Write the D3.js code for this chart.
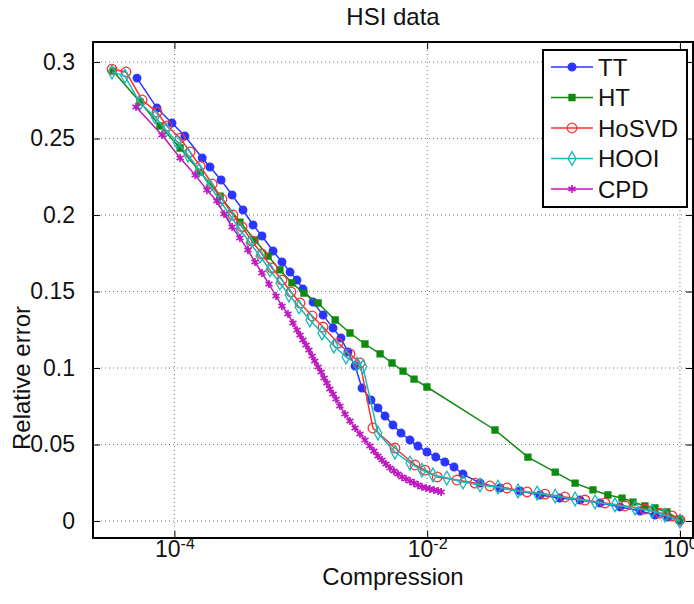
<!DOCTYPE html>
<html>
<head>
<meta charset="utf-8">
<script src="https://cdn.jsdelivr.net/npm/d3@7"></script>
<style>
body { margin:0; background:#fff; }
text { font-family: "Liberation Sans", Arial, Helvetica, sans-serif; }
</style>
</head>
<body>
<svg id="drawing_region"></svg>
<script>
// values (compression, relative error)
const seriesNames = ['TT', 'HT', 'HoSVD', 'HOOI', 'CPD'];

const ttX = [5.06e-5, 7.28e-5, 9.57e-5, 1.21e-4, 1.66e-4, 1.91e-4, 2.34e-4, 2.86e-4, 3.49e-4, 4.19e-4,
    4.93e-4, 6.03e-4, 7.10e-4, 8.22e-4, 9.33e-4, 1.04e-3, 1.25e-3, 1.50e-3, 1.80e-3, 2.08e-3,
    2.36e-3, 2.69e-3, 3.05e-3, 3.59e-3, 4.08e-3, 4.64e-3, 5.36e-3, 6.21e-3, 7.31e-3, 8.46e-3,
    9.96e-3, 1.17e-2, 1.38e-2, 1.63e-2, 1.92e-2, 2.62e-2, 3.77e-2, 5.42e-2, 7.80e-2, 0.112,
    0.162, 0.233, 0.335, 0.483, 0.634, 0.804, 1.0];
const ttY = [0.2895, 0.2699, 0.2601, 0.2516, 0.2373, 0.2314, 0.2229, 0.2131, 0.2033, 0.1935,
    0.1863, 0.1765, 0.1693, 0.1627, 0.1575, 0.1516, 0.1431, 0.1346, 0.1261, 0.1196,
    0.1105, 0.1013, 0.0869, 0.0791, 0.0739, 0.0686, 0.0627, 0.0575, 0.0529, 0.0490,
    0.0451, 0.0418, 0.0386, 0.0353, 0.0307, 0.0248, 0.0216, 0.0196, 0.0170, 0.0150,
    0.0137, 0.0118, 0.0092, 0.0065, 0.0039, 0.0026, 0.0];

const htX = [3.27e-5, 5.35e-5, 7.69e-5, 1.11e-4, 1.60e-4, 2.30e-4, 3.30e-4, 4.34e-4, 5.51e-4, 6.84e-4,
    8.51e-4, 1.06e-3, 1.37e-3, 1.87e-3, 2.45e-3, 3.22e-3, 4.24e-3, 5.27e-3, 6.44e-3, 7.87e-3,
    9.96e-3, 3.44e-2, 6.27e-2, 0.103, 0.148, 0.205, 0.269, 0.348, 0.425, 0.528,
    0.634, 0.789, 0.982];
const htY = [0.2941, 0.2739, 0.2582, 0.2438, 0.2281, 0.2124, 0.1954, 0.1837, 0.1732, 0.1641,
    0.1556, 0.1490, 0.1425, 0.1314, 0.1229, 0.1157, 0.1092, 0.1033, 0.0980, 0.0928,
    0.0876, 0.0595, 0.0418, 0.0320, 0.0248, 0.0203, 0.0170, 0.0150, 0.0124, 0.0098,
    0.0085, 0.0059, 0.0013];

const hosvdX = [3.21e-5, 4.14e-5, 5.55e-5, 7.28e-5, 8.73e-5, 1.11e-4, 1.33e-4, 1.60e-4, 1.99e-4, 2.38e-4,
    2.91e-4, 3.43e-4, 4.11e-4, 4.93e-4, 5.92e-4, 7.10e-4, 8.36e-4, 9.86e-4, 1.23e-3, 1.50e-3,
    1.97e-3, 2.45e-3, 2.94e-3, 3.72e-3, 5.56e-3, 8.00e-3, 9.61e-3, 1.20e-2, 1.72e-2, 2.39e-2,
    3.14e-2, 4.28e-2, 6.17e-2, 8.55e-2, 0.123, 0.177, 0.255, 0.367, 0.528, 0.695,
    0.865, 1.0];
const hosvdY = [0.2954, 0.2935, 0.2752, 0.2673, 0.2582, 0.2503, 0.2412, 0.2320, 0.2203, 0.2105,
    0.2000, 0.1922, 0.1830, 0.1745, 0.1654, 0.1575, 0.1497, 0.1425, 0.1340, 0.1268,
    0.1163, 0.1092, 0.1033, 0.0608, 0.0477, 0.0366, 0.0333, 0.0288, 0.0268, 0.0248,
    0.0229, 0.0216, 0.0190, 0.0176, 0.0157, 0.0137, 0.0118, 0.0098, 0.0078, 0.0052,
    0.0033, 0.0007];

const hooiX = [3.21e-5, 4.06e-5, 5.35e-5, 7.03e-5, 8.59e-5, 1.05e-4, 1.28e-4, 1.57e-4, 1.91e-4, 2.30e-4,
    2.75e-4, 3.30e-4, 3.96e-4, 4.75e-4, 5.70e-4, 6.84e-4, 8.07e-4, 9.68e-4, 1.18e-3, 1.47e-3,
    1.83e-3, 2.28e-3, 2.79e-3, 3.10e-3, 4.08e-3, 5.56e-3, 7.31e-3, 9.10e-3, 1.11e-2, 1.43e-2,
    1.92e-2, 2.62e-2, 3.63e-2, 5.23e-2, 7.40e-2, 0.103, 0.148, 0.213, 0.306, 0.441,
    0.600, 0.761, 1.0];
const hooiY = [0.2935, 0.2908, 0.2732, 0.2641, 0.2556, 0.2477, 0.2392, 0.2294, 0.2190, 0.2092,
    0.2000, 0.1908, 0.1817, 0.1732, 0.1641, 0.1556, 0.1477, 0.1399, 0.1314, 0.1229,
    0.1144, 0.1072, 0.1026, 0.1007, 0.0575, 0.0451, 0.0379, 0.0333, 0.0301, 0.0281,
    0.0255, 0.0235, 0.0222, 0.0196, 0.0183, 0.0163, 0.0144, 0.0124, 0.0105, 0.0085,
    0.0065, 0.0039, 0.0];

const cpdX = [4.97e-5, 7.98e-5, 1.11e-4, 1.46e-4, 1.81e-4, 2.17e-4, 2.47e-4, 2.86e-4, 3.30e-4, 3.82e-4,
    4.34e-4, 4.93e-4, 5.60e-4, 6.37e-4, 7.10e-4, 7.92e-4, 8.67e-4, 9.33e-4, 9.86e-4, 1.04e-3,
    1.10e-3, 1.16e-3, 1.23e-3, 1.29e-3, 1.37e-3, 1.45e-3, 1.53e-3, 1.61e-3, 1.70e-3, 1.80e-3,
    1.90e-3, 2.04e-3, 2.24e-3, 2.45e-3, 2.69e-3, 2.94e-3, 3.22e-3, 3.52e-3, 3.79e-3, 4.08e-3,
    4.39e-3, 4.72e-3, 5.08e-3, 5.46e-3, 5.87e-3, 6.32e-3, 6.80e-3, 7.31e-3, 7.87e-3, 8.46e-3,
    9.10e-3, 9.80e-3, 1.05e-2, 1.13e-2, 1.22e-2, 1.29e-2];
const cpdY = [0.2706, 0.2523, 0.2373, 0.2261, 0.2163, 0.2092, 0.2007, 0.1922, 0.1850, 0.1771,
    0.1693, 0.1621, 0.1549, 0.1471, 0.1405, 0.1353, 0.1294, 0.1248, 0.1216, 0.1183,
    0.1150, 0.1118, 0.1078, 0.1046, 0.1007, 0.0974, 0.0935, 0.0902, 0.0863, 0.0830,
    0.0797, 0.0752, 0.0699, 0.0654, 0.0608, 0.0569, 0.0529, 0.0490, 0.0458, 0.0425,
    0.0399, 0.0373, 0.0346, 0.0327, 0.0307, 0.0288, 0.0275, 0.0261, 0.0248, 0.0235,
    0.0222, 0.0216, 0.0209, 0.0203, 0.0196, 0.0190];

const xTicks = [1e-4, 1e-2, 1];
const xTickExps = ['-4', '-2', '0'];
const yTicks = [0, 0.05, 0.1, 0.15, 0.2, 0.25, 0.3];
const yTickLabels = ['0', '0.05', '0.1', '0.15', '0.2', '0.25', '0.3'];

class LogLinePlot {

    constructor(config, data) {
        this.config = config;
        this.data = data;
        this.style = {
            TT:    { color: '#2a35ff', marker: 'dot' },
            HT:    { color: '#0f8a0f', marker: 'square' },
            HoSVD: { color: '#ff3030', marker: 'circle' },
            HOOI:  { color: '#18b9b9', marker: 'diamond' },
            CPD:   { color: '#c018c0', marker: 'asterisk' }
        };
        this.init();
    }

    init() {
        let self = this;

        self.svg = d3.select(self.config.parent)
            .attr('width', self.config.width)
            .attr('height', self.config.height);

        self.svg.append('rect')
            .attr('width', self.config.width)
            .attr('height', self.config.height)
            .attr('fill', '#fff');

        self.chart = self.svg.append('g')
            .attr('transform', `translate(${self.config.margin.left}, ${self.config.margin.top})`);

        self.inner_width = self.config.width - self.config.margin.left - self.config.margin.right;
        self.inner_height = self.config.height - self.config.margin.top - self.config.margin.bottom;

        self.xscale = d3.scaleLog().range([0, self.inner_width]);
        self.yscale = d3.scaleLinear().range([self.inner_height, 0]);

        self.grid_group = self.chart.append('g');
        self.xaxis_group = self.chart.append('g')
            .attr('transform', `translate(0, ${self.inner_height})`);
        self.xaxis_top_group = self.chart.append('g');
        self.yaxis_group = self.chart.append('g');
        self.yaxis_right_group = self.chart.append('g')
            .attr('transform', `translate(${self.inner_width}, 0)`);
        self.lines_group = self.chart.append('g');
        self.legend_group = self.svg.append('g');
    }

    update() {
        let self = this;
        // axis limits as read from the frame
        self.xscale.domain([2.27e-5, 1.268]);
        self.yscale.domain([-0.0111, 0.3131]);
        self.render();
    }

    symbol(kind) {
        if (kind == 'dot') return d3.symbol(d3.symbolCircle, 46)();
        if (kind == 'square') return d3.symbol(d3.symbolSquare, 36)();
        if (kind == 'circle') return d3.symbol(d3.symbolCircle, 72)();
        if (kind == 'diamond') return d3.symbol(d3.symbolDiamond, 54)();
        return d3.symbol(d3.symbolAsterisk, 46)();
    }

    styleMarker(sel, st) {
        let filled = st.marker == 'dot' || st.marker == 'square';
        sel.attr('fill', filled ? st.color : 'none')
            .attr('stroke', st.color)
            .attr('stroke-width', st.marker == 'asterisk' ? 1.7 : 1.3);
    }

    render() {
        let self = this;
        const font = '"Liberation Sans", Arial, Helvetica, sans-serif';

        // dotted grid
        self.grid_group.selectAll('.vgrid').data(xTicks).enter()
            .append('line')
            .attr('x1', d => self.xscale(d)).attr('x2', d => self.xscale(d))
            .attr('y1', 0).attr('y2', self.inner_height);
        self.grid_group.selectAll('.hgrid').data(yTicks).enter()
            .append('line')
            .attr('x1', 0).attr('x2', self.inner_width)
            .attr('y1', d => self.yscale(d)).attr('y2', d => self.yscale(d));
        self.grid_group.selectAll('line')
            .attr('stroke', '#777')
            .attr('stroke-width', 1)
            .attr('stroke-dasharray', '1,3');

        // axes, ticks point inward
        self.xaxis = d3.axisBottom(self.xscale).tickValues(xTicks).tickSize(-7).tickSizeOuter(0).tickPadding(3);
        self.xaxis_group.call(self.xaxis)
            .attr('font-size', 23).attr('font-family', font);
        self.xaxis_group.selectAll('.tick text')
            .attr('fill', '#111')
            .text('10')
            .append('tspan')
            .attr('dy', '-0.55em')
            .attr('font-size', 16)
            .text((d, i) => xTickExps[i]);

        self.xaxis_top_group.call(d3.axisTop(self.xscale).tickValues(xTicks).tickSize(-7).tickSizeOuter(0).tickFormat(''));

        self.yaxis = d3.axisLeft(self.yscale).tickValues(yTicks).tickSize(-7).tickSizeOuter(0).tickPadding(18)
            .tickFormat((d, i) => yTickLabels[i]);
        self.yaxis_group.call(self.yaxis)
            .attr('font-size', 23).attr('font-family', font);
        self.yaxis_group.selectAll('.tick text').attr('fill', '#111');

        self.yaxis_right_group.call(d3.axisRight(self.yscale).tickValues(yTicks).tickSize(-7).tickSizeOuter(0).tickFormat(''));

        self.chart.selectAll('.domain').remove();

        self.chart.append('rect')
            .attr('width', self.inner_width)
            .attr('height', self.inner_height)
            .attr('fill', 'none')
            .attr('stroke', '#000')
            .attr('stroke-width', 2);

        // lines + markers
        const line = d3.line()
            .x(d => self.xscale(d.x))
            .y(d => self.yscale(d.y));

        self.data.forEach(s => {
            let st = self.style[s.name];
            let g = self.lines_group.append('g');
            g.append('path')
                .attr('d', line(s.points))
                .attr('fill', 'none')
                .attr('stroke', st.color)
                .attr('stroke-width', 1.5);
            g.selectAll('path.mk').data(s.points).enter()
                .append('path')
                .attr('class', 'mk')
                .attr('d', self.symbol(st.marker))
                .attr('transform', d => `translate(${self.xscale(d.x)}, ${self.yscale(d.y)})`)
                .call(sel => self.styleMarker(sel, st));
        });

        // title and axis labels
        self.svg.append('text')
            .attr('x', self.config.margin.left + self.inner_width / 2)
            .attr('y', 25)
            .attr('text-anchor', 'middle')
            .attr('font-size', 24)
            .attr('fill', '#111')
            .text('HSI data');

        self.svg.append('text')
            .attr('x', self.config.margin.left + self.inner_width / 2)
            .attr('y', 585)
            .attr('text-anchor', 'middle')
            .attr('font-size', 24)
            .attr('fill', '#111')
            .text('Compression');

        self.svg.append('text')
            .attr('transform', 'translate(30, 378) rotate(-90)')
            .attr('text-anchor', 'middle')
            .attr('font-size', 24)
            .attr('fill', '#111')
            .text('Relative error');

        // legend
        self.legend_group.append('rect')
            .attr('x', 543).attr('y', 50)
            .attr('width', 144).attr('height', 157)
            .attr('fill', '#fff')
            .attr('stroke', '#000')
            .attr('stroke-width', 2);

        let items = self.legend_group.selectAll('.item').data(seriesNames).enter()
            .append('g')
            .attr('transform', (d, i) => `translate(551, ${67 + i * 30.5})`);
        items.append('line')
            .attr('x1', 0).attr('x2', 42)
            .attr('stroke', d => self.style[d].color)
            .attr('stroke-width', 1.5);
        items.append('path')
            .attr('d', d => self.symbol(self.style[d].marker))
            .attr('transform', 'translate(21, 0)')
            .each(function(d) { self.styleMarker(d3.select(this), self.style[d]); });
        items.append('text')
            .attr('x', 47)
            .attr('dy', '0.36em')
            .attr('font-size', 24)
            .attr('fill', '#111')
            .text(d => d);
    }
}

const data = [
    { name: 'TT', x: ttX, y: ttY },
    { name: 'HT', x: htX, y: htY },
    { name: 'HoSVD', x: hosvdX, y: hosvdY },
    { name: 'HOOI', x: hooiX, y: hooiY },
    { name: 'CPD', x: cpdX, y: cpdY }
].map(s => ({ name: s.name, points: s.x.map((v, i) => ({ x: v, y: s.y[i] })) }));

var config = {
    parent: '#drawing_region',
    width: 694,
    height: 604,
    margin: { top: 42, right: 1, bottom: 66, left: 93 }
};

const plot = new LogLinePlot(config, data);
plot.update();
</script>
</body>
</html>
